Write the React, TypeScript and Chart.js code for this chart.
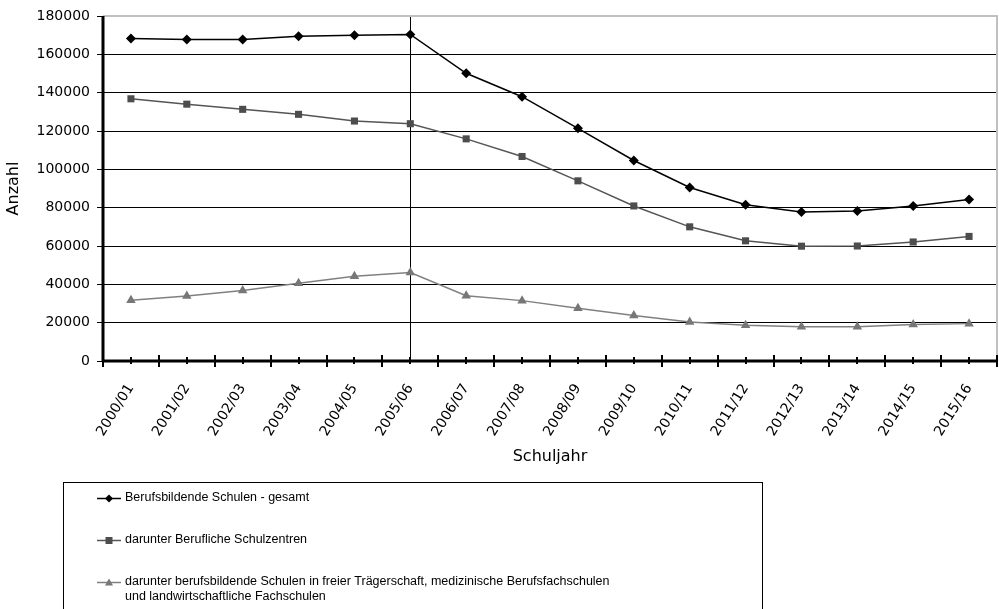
import React, { useEffect, useRef } from "react";
import { Chart, registerables } from "chart.js";

Chart.register(...registerables);

const categories = [
  "2000/01", "2001/02", "2002/03", "2003/04", "2004/05", "2005/06", "2006/07", "2007/08",
  "2008/09", "2009/10", "2010/11", "2011/12", "2012/13", "2013/14", "2014/15", "2015/16",
];

const gesamt = [168300, 167800, 167800, 169400, 169900, 170400, 150100, 137900, 121400, 104600, 90500, 81500, 77800, 78300, 80900, 84300];
const schulzentren = [136800, 134000, 131300, 128700, 125200, 123800, 115900, 106700, 94000, 80900, 70000, 62700, 59900, 60000, 62100, 65000];
const freieTraeger = [31700, 33900, 36800, 40600, 44200, 46200, 34100, 31500, 27500, 23700, 20400, 18600, 17900, 17900, 19000, 19500];

const seriesLabels = [
  ["Berufsbildende Schulen - gesamt"],
  ["darunter Berufliche Schulzentren"],
  [
    "darunter berufsbildende Schulen in freier Trägerschaft, medizinische Berufsfachschulen",
    "und landwirtschaftliche Fachschulen",
  ],
];

const yTicksMax = 180000;
const yStep = 20000;
const markerIndex = 5;

const FONT = "'Liberation Sans', Arial, Helvetica, sans-serif";
const AXFONT = "'DejaVu Sans', Verdana, sans-serif";

const decorPlugin = {
  id: "decor",
  beforeDatasetsDraw(chart: any) {
    const { ctx, chartArea, scales } = chart;
    const x = scales.x;
    ctx.save();
    const vx = Math.round(x.getPixelForValue(markerIndex)) + 0.5;
    ctx.strokeStyle = "#000";
    ctx.lineWidth = 1;
    ctx.beginPath();
    ctx.moveTo(vx, chartArea.top);
    ctx.lineTo(vx, chartArea.bottom);
    ctx.stroke();
    ctx.strokeStyle = "#c0c0c0";
    ctx.lineWidth = 2;
    ctx.beginPath();
    ctx.moveTo(chartArea.left, chartArea.top);
    ctx.lineTo(chartArea.right, chartArea.top);
    ctx.lineTo(chartArea.right, chartArea.bottom);
    ctx.stroke();
    ctx.restore();
  },
  afterDatasetsDraw(chart: any) {
    const { ctx, chartArea, scales } = chart;
    const x = scales.x;
    ctx.save();
    ctx.strokeStyle = "#000";
    ctx.lineWidth = 3;
    ctx.beginPath();
    ctx.moveTo(chartArea.left, chartArea.top);
    ctx.lineTo(chartArea.left, chartArea.bottom);
    ctx.stroke();
    ctx.beginPath();
    ctx.moveTo(chartArea.left, chartArea.bottom);
    ctx.lineTo(chartArea.right, chartArea.bottom);
    ctx.stroke();
    const n = categories.length;
    const w = (chartArea.right - chartArea.left) / n;
    ctx.lineWidth = 2;
    for (let i = 0; i <= n; i++) {
      const px = Math.round(chartArea.left + i * w);
      ctx.beginPath();
      ctx.moveTo(px, chartArea.bottom - 6);
      ctx.lineTo(px, chartArea.bottom + 6);
      ctx.stroke();
    }
    for (let i = 0; i < n; i++) {
      const px = Math.round(x.getPixelForValue(i));
      ctx.beginPath();
      ctx.moveTo(px, chartArea.bottom - 4);
      ctx.lineTo(px, chartArea.bottom + 3);
      ctx.stroke();
    }
    ctx.restore();
  },
  afterDraw(chart: any) {
    const { ctx } = chart;
    ctx.save();
    ctx.strokeStyle = "#000";
    ctx.lineWidth = 1;
    ctx.strokeRect(63.5, 482.5, 699, 140);
    const rows = [498, 540, 582];
    ctx.font = "12.5px " + FONT;
    ctx.textBaseline = "middle";
    ctx.textAlign = "left";
    chart.data.datasets.forEach((ds: any, i: number) => {
      const y = rows[i];
      ctx.strokeStyle = ds.borderColor;
      ctx.lineWidth = 1.5;
      ctx.beginPath();
      ctx.moveTo(97, y + 0.5);
      ctx.lineTo(121, y + 0.5);
      ctx.stroke();
      ctx.fillStyle = ds.pointBackgroundColor;
      const cx = 109;
      const cy = y + 0.5;
      ctx.beginPath();
      if (ds.pointStyle === "rectRot") {
        ctx.moveTo(cx, cy - 4);
        ctx.lineTo(cx + 4, cy);
        ctx.lineTo(cx, cy + 4);
        ctx.lineTo(cx - 4, cy);
      } else if (ds.pointStyle === "rect") {
        ctx.rect(cx - 3.5, cy - 3.5, 7, 7);
      } else {
        ctx.moveTo(cx, cy - 4);
        ctx.lineTo(cx + 4, cy + 3);
        ctx.lineTo(cx - 4, cy + 3);
      }
      ctx.closePath();
      ctx.fill();
      ctx.fillStyle = "#000";
      seriesLabels[i].forEach((t, j) => {
        ctx.fillText(t, 125, y + j * 15);
      });
    });
    ctx.restore();
  },
};

const zeroPad = () => ({ left: 0, right: 0, top: 0, bottom: 0 });

export default function App() {
  const ref = useRef<HTMLCanvasElement>(null);
  useEffect(() => {
    if (!ref.current) return;
    const mk = (data: number[], color: string, fill: string, style: string, r: number) => ({
      data,
      borderColor: color,
      backgroundColor: fill,
      pointBackgroundColor: fill,
      pointBorderColor: fill,
      pointBorderWidth: 0,
      pointStyle: style,
      pointRadius: r,
      borderWidth: 1.5,
      tension: 0,
      clip: false,
    });
    const chart = new Chart(ref.current, {
      type: "line",
      data: {
        labels: categories,
        datasets: [
          { label: seriesLabels[0].join(" "), ...mk(gesamt, "#000000", "#000000", "rectRot", 5) },
          { label: seriesLabels[1].join(" "), ...mk(schulzentren, "#555555", "#4d4d4d", "rect", 5) },
          { label: seriesLabels[2].join(" "), ...mk(freieTraeger, "#808080", "#777777", "triangle", 5.5) },
        ] as any,
      },
      options: {
        responsive: false,
        animation: false,
        events: [],
        layout: { autoPadding: false, padding: { left: 0, right: 2, top: 16, bottom: 143 } },
        plugins: { legend: { display: false }, tooltip: { enabled: false } },
        scales: {
          x: {
            type: "category",
            offset: true,
            grid: { display: false, drawOnChartArea: false },
            border: { display: false },
            ticks: {
              color: "#000",
              font: { family: AXFONT, size: 14 },
              maxRotation: 58,
              minRotation: 58,
              padding: 12,
              autoSkip: false,
            },
            title: {
              display: true,
              text: "Schuljahr",
              color: "#000",
              font: { family: AXFONT, size: 16 },
              padding: { top: 4, bottom: 0 },
            },
            afterFit: (s: any) => {
              s.height = 105;
              s.paddingLeft = 0;
              s.paddingRight = 0;
              s.getPadding = zeroPad;
            },
          },
          y: {
            min: 0,
            max: yTicksMax,
            ticks: {
              stepSize: yStep,
              color: "#000",
              font: { family: AXFONT, size: 14 },
              padding: 7,
              callback: (v: any) => String(v),
            },
            grid: {
              color: (c: any) => (c.tick && c.tick.value === yTicksMax ? "rgba(0,0,0,0)" : "#000"),
              lineWidth: 1,
              tickColor: "#000",
              tickLength: 6,
            },
            border: { display: false },
            title: {
              display: true,
              text: "Anzahl",
              color: "#000",
              font: { family: AXFONT, size: 16 },
              padding: { top: 4, bottom: 0 },
            },
            afterFit: (s: any) => {
              s.width = 103;
              s.getPadding = zeroPad;
            },
          },
        },
      },
      plugins: [decorPlugin],
    } as any);
    return () => chart.destroy();
  }, []);
  return (
    <div style={{ position: "absolute", left: 0, top: 0, width: 999, height: 609, background: "#fff" }}>
      <canvas ref={ref} width={999} height={609} style={{ width: 999, height: 609, display: "block" }} />
    </div>
  );
}
